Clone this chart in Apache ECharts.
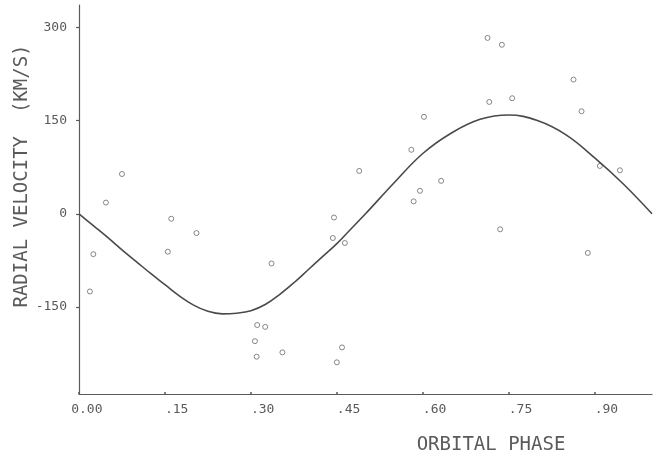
<!DOCTYPE html>
<html>
<head>
<meta charset="utf-8">
<script src="https://cdn.jsdelivr.net/npm/echarts@6/dist/echarts.min.js"></script>
<style>
  html, body { margin: 0; padding: 0; background: #fff; }
  #chart { width: 661px; height: 456px; }
</style>
</head>
<body>
<div id="chart"></div>
<script>
// observed radial velocities
const obsPhase = [0.019, 0.025, 0.047, 0.075, 0.155, 0.161, 0.205, 0.307, 0.310, 0.311,
  0.325, 0.336, 0.355, 0.443, 0.445, 0.450, 0.459, 0.464, 0.489, 0.580,
  0.584, 0.595, 0.602, 0.632, 0.713, 0.716, 0.735, 0.738, 0.756, 0.863,
  0.877, 0.888, 0.909, 0.944]
const obsVel = [-125, -65, 18, 64, -61, -8, -31, -205, -230, -179,
  -182, -80, -223, -39, -6, -239, -215, -47, 69, 103,
  20, 37, 156, 53, 283, 180, -25, 272, 186, 216,
  165, -63, 77, 70]

// fitted curve
const curvePhase = [0, 0.025, 0.05, 0.075, 0.10, 0.125, 0.15, 0.175, 0.20, 0.225, 0.25,
  0.275, 0.30, 0.325, 0.35, 0.375, 0.40, 0.425, 0.45, 0.475, 0.50,
  0.55, 0.60, 0.65, 0.70, 0.75, 0.80, 0.85, 0.90, 0.95, 1.00]
const curveVel = [0, -19, -38, -58, -77, -96, -114, -132, -147, -157, -161,
  -160, -156, -146, -130, -111, -90, -69, -48, -24, 0,
  50, 97, 130, 152, 159, 150, 127, 90, 48, 0]

const xTicks = [0, 0.15, 0.30, 0.45, 0.60, 0.75, 0.90]
const xTickLabels = ['0.00', '.15', '.30', '.45', '.60', '.75', '.90']
const yTicks = [-150, 0, 150, 300]

const ink = '#5a5a5a'
const mono = '"DejaVu Sans Mono", monospace'

const chart = echarts.init(document.getElementById('chart'), null, { renderer: 'canvas' })

chart.setOption({
  backgroundColor: '#ffffff',
  animation: false,
  grid: {
    left: 79,
    right: 9,
    top: 5,
    bottom: 62
  },
  xAxis: {
    type: 'value',
    min: 0,
    max: 1,
    splitLine: { show: false },
    axisLine: { show: true, onZero: false, lineStyle: { color: ink, width: 1.2 } },
    axisTick: {
      show: true,
      customValues: xTicks,
      inside: true,
      length: 2,
      lineStyle: { color: ink, width: 1.5 }
    },
    axisLabel: {
      customValues: xTicks,
      margin: 9,
      color: ink,
      fontFamily: mono,
      fontSize: 13,
      // labels sit slightly right of their ticks, as on the plotter
      formatter: function (v) {
        const i = xTicks.findIndex(t => Math.abs(t - v) < 1e-6)
        const s = i >= 0 ? xTickLabels[i] : ''
        return (s.length === 3 ? '   ' : '  ') + s
      }
    }
  },
  yAxis: {
    type: 'value',
    min: -290,
    max: 336,
    splitLine: { show: false },
    axisLine: { show: true, onZero: false, lineStyle: { color: ink, width: 1.2 } },
    axisTick: {
      show: true,
      customValues: yTicks,
      length: 3,
      lineStyle: { color: ink, width: 1.2 }
    },
    axisLabel: {
      customValues: yTicks,
      margin: 12,
      color: ink,
      fontFamily: mono,
      fontSize: 13
    }
  },
  graphic: [
    {
      type: 'text',
      x: 22,
      y: 176,
      rotation: Math.PI / 2,
      style: {
        text: 'RADIAL VELOCITY  (KM/S)',
        fill: ink,
        font: '19px ' + mono,
        align: 'center',
        verticalAlign: 'middle'
      }
    },
    {
      type: 'text',
      x: 491,
      y: 445,
      style: {
        text: 'ORBITAL PHASE',
        fill: ink,
        font: '19px ' + mono,
        align: 'center',
        verticalAlign: 'middle'
      }
    }
  ],
  series: [
    {
      name: 'fit',
      type: 'line',
      smooth: 0.4,
      symbol: 'none',
      lineStyle: { color: '#4a4a4a', width: 1.6 },
      data: curvePhase.map((p, i) => [p, curveVel[i]])
    },
    {
      name: 'observed',
      type: 'scatter',
      symbol: 'circle',
      symbolSize: 5,
      itemStyle: { color: '#ffffff', borderColor: '#6a6a6a', borderWidth: 1 },
      data: obsPhase.map((p, i) => [p, obsVel[i]])
    }
  ]
})
</script>
</body>
</html>
